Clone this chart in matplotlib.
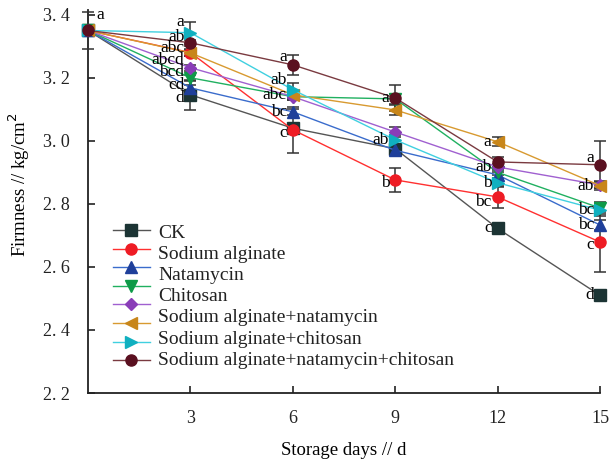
import matplotlib
matplotlib.use("Agg")
import matplotlib.pyplot as plt
from matplotlib.lines import Line2D

plt.rcParams['font.family'] = ['Liberation Serif', 'DejaVu Serif']

# storage days
days = [0, 3, 6, 9, 12, 15]

legend_names = ['CK', 'Sodium alginate', 'Natamycin', 'Chitosan',
                'Sodium alginate+natamycin', 'Sodium alginate+chitosan',
                'Sodium alginate+natamycin+chitosan']

# firmness means (kg/cm2)
ck = [3.35, 3.146, 3.040, 2.975, 2.722, 2.510]
sa = [3.35, 3.280, 3.035, 2.876, 2.822, 2.679]
nat = [3.35, 3.168, 3.092, 2.970, 2.892, 2.733]
chit = [3.35, 3.200, 3.140, 3.133, 2.900, 2.787]
purple = [3.35, 3.232, 3.140, 3.028, 2.917, 2.860]
sa_nat = [3.35, 3.279, 3.146, 3.098, 2.997, 2.858]
sa_chit = [3.35, 3.343, 3.162, 3.003, 2.867, 2.780]
sa_nat_chit = [3.35, 3.311, 3.241, 3.136, 2.933, 2.924]

# standard errors
ck_err = [0.01, 0.048, 0.01, 0.01, 0.005, 0.005]
sa_err = [0.01, 0.01, 0.073, 0.038, 0.035, 0.095]
nat_err = [0.01, 0.01, 0.01, 0.01, 0.01, 0.015]
chit_err = [0.01, 0.01, 0.01, 0.015, 0.01, 0.02]
purple_err = [0.01, 0.01, 0.01, 0.015, 0.01, 0.01]
sa_nat_err = [0.01, 0.01, 0.01, 0.015, 0.015, 0.015]
sa_chit_err = [0.01, 0.035, 0.02, 0.015, 0.015, 0.02]
sa_nat_chit_err = [0.058, 0.01, 0.032, 0.04, 0.015, 0.075]

# significance letters
ck_sig = ['', 'd', '', '', 'c', 'd']
sa_sig = ['', '', 'c', 'b', 'bc', 'c']
nat_sig = ['', 'cd', 'bc', '', '', 'bc']
chit_sig = ['', 'bcd', '', '', '', '']
purple_sig = ['', 'abcd', '', '', 'ab', '']
sa_nat_sig = ['', 'abc', 'abc', '', 'a', 'ab']
sa_chit_sig = ['', 'a', 'ab', 'ab', 'b', 'bc']
sa_nat_chit_sig = ['a', 'ab', 'a', 'a', '', 'a']

series = [
    (ck, ck_err, ck_sig, '#555555', '#1c3434', 's'),
    (sa, sa_err, sa_sig, '#ff3030', '#ee1c24', 'o'),
    (nat, nat_err, nat_sig, '#3a6ccc', '#1f3f9a', '^'),
    (chit, chit_err, chit_sig, '#20b060', '#0e9a48', 'v'),
    (purple, purple_err, purple_sig, '#a060d0', '#8a3db8', 'D'),
    (sa_nat, sa_nat_err, sa_nat_sig, '#d89a30', '#c8861a', '<'),
    (sa_chit, sa_chit_err, sa_chit_sig, '#40d0e0', '#10b0c0', '>'),
    (sa_nat_chit, sa_nat_chit_err, sa_nat_chit_sig, '#7a3a40', '#5a1020', 'o'),
]

# vertical nudges for letters (pixels, + is up)
nudge = {(6, 1): 11, (7, 1): 6, (5, 1): 5, (4, 1): 8, (3, 1): 6, (2, 1): 3, (0, 1): -3,
         (7, 2): 8, (6, 2): 10, (1, 2): -3,
         (1, 3): -3, (1, 4): -5, (7, 5): 7, (1, 5): -3}

W, H = 610, 463
fig = plt.figure(figsize=(W / 100, H / 100), dpi=100)
ax = fig.add_axes([88/W, 70/H, 512/W, 383/H])

def axfrac(px, py):
    # pixel position (from top-left) -> axes fraction
    return (px - 88) / 512, (393 - py) / 383

for i, (y, e, sig, lc, mc, mk) in enumerate(series):
    ax.errorbar(days, y, yerr=e, fmt='none', ecolor='#333333', elinewidth=1.1,
                capsize=4, capthick=1.1, zorder=3, clip_on=False)
    ms = 8 if mk != 'D' else 6.5
    ax.plot(days, y, color=lc, lw=1.0, marker=mk, ms=ms,
            mfc=mc, mec=mc, zorder=4 + i, clip_on=False)
    for j, s in enumerate(sig):
        if not s:
            continue
        if j == 0:
            ax.annotate(s, (days[j], y[j]), xytext=(8, 15), textcoords='offset pixels',
                        ha='left', va='center', fontsize=12.5, zorder=20)
        else:
            ax.annotate(s, (days[j], y[j]), xytext=(-6, nudge.get((i, j), 0)),
                        textcoords='offset pixels', ha='right', va='center',
                        fontsize=12.5, zorder=20)
    # legend symbol column (8 symbols stacked tighter than the 7 names)
    x0, yy = axfrac(113, 230 + i * 18.6)
    x1, _ = axfrac(150, 0)
    xm, _ = axfrac(131, 0)
    ax.add_line(Line2D([x0, x1], [yy, yy], color=lc, lw=1.0, transform=ax.transAxes,
                       clip_on=False, zorder=30))
    ax.add_line(Line2D([xm], [yy], marker=mk, ms=ms, mfc=mc, mec=mc, lw=0,
                       transform=ax.transAxes, clip_on=False, zorder=31))

for k, name in enumerate(legend_names):
    tx, ty = axfrac(158, 233 + k * 21.2)
    ax.text(tx, ty, name, transform=ax.transAxes, ha='left', va='center',
            fontsize=14, color='#222222')

ax.set_xlim(0, 15)
ax.set_ylim(2.2, 3.415)
ax.set_xticks([3, 6, 9, 12, 15])
ax.set_xticklabels(['3', '6', '9', '12', '15'])
yt = [2.2, 2.4, 2.6, 2.8, 3.0, 3.2, 3.4]
ax.set_yticks(yt)
ax.set_yticklabels([f"{v:.1f}".replace('.', '. ') for v in yt])
ax.tick_params(direction='in', length=5, width=1.2, labelsize=13, colors='#222222')
ax.tick_params(axis='x', pad=12)
ax.tick_params(axis='y', pad=13)
for s in ['top', 'right']:
    ax.spines[s].set_visible(False)
for s in ['left', 'bottom']:
    ax.spines[s].set_linewidth(1.3)
    ax.spines[s].set_color('#222222')

ax.set_xlabel('Storage days // d', fontsize=13.5, labelpad=11)
ax.set_ylabel('Firmness // kg/cm$^2$', fontsize=13.5)
ax.yaxis.set_label_coords(-0.11, 0.543)

fig.savefig('out.png', dpi=100)
